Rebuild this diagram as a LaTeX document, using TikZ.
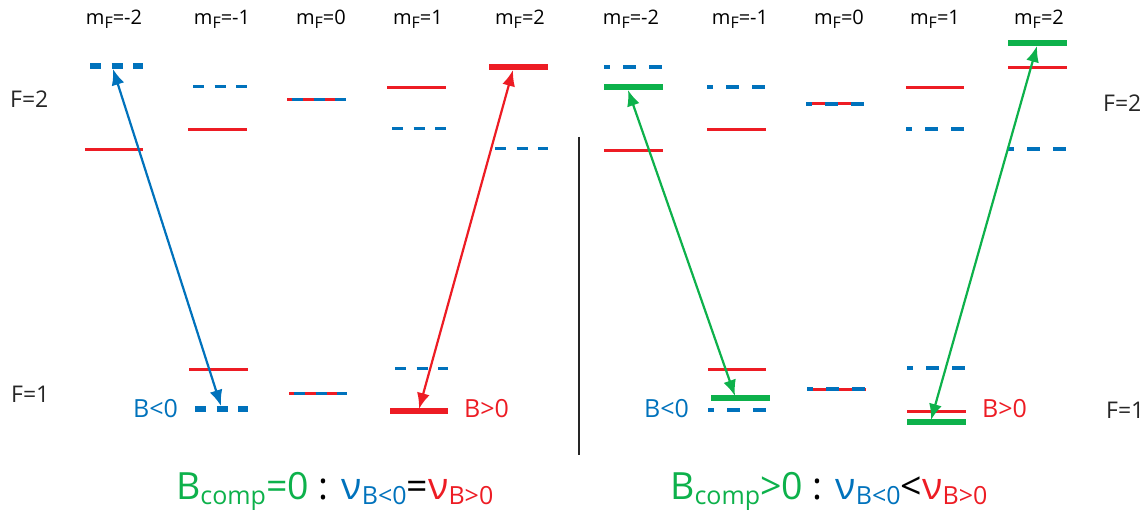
\documentclass[tikz,border=0pt]{standalone}
\usepackage{fontspec}
\setmainfont{Open Sans}
\usetikzlibrary{arrows.meta}
\definecolor{cred}{RGB}{237,28,36}
\definecolor{cblue}{RGB}{0,114,188}
\definecolor{cgreen}{RGB}{13,177,75}
\newcommand\sbs[1]{\raisebox{-5pt}{\fontsize{25}{27}\selectfont #1}}
\newcommand\mfl[1]{m\raisebox{-4pt}{\fontsize{16}{18}\selectfont F}=#1}
\newcommand\lv[4]{\draw[#1] (#2,#4) -- (#3,#4);}
\tikzset{
  redthin/.style={cred, line width=3pt},
  redthick/.style={cred, line width=5.5pt},
  greenthick/.style={cgreen, line width=5.5pt},
  blueL/.style={cblue, line width=3pt, dash pattern=on 11pt off 10.5pt},
  blueLthick/.style={cblue, line width=5.5pt, dash pattern=on 11pt off 10.5pt},
  blueR/.style={cblue, line width=4pt, dash pattern=on 13pt off 13pt, dash phase=7pt},
  mflab/.style={anchor=base, inner sep=0pt, font=\fontsize{20}{24}\selectfont},
  flab/.style={anchor=base west, inner sep=0pt, font=\fontsize{23}{27}\selectfont, text=black!85},
  blab/.style={anchor=base west, inner sep=0pt, font=\fontsize{25}{29}\selectfont},
  formula/.style={anchor=base west, inner sep=0pt, font=\fontsize{37.5}{42}\selectfont},
  arr/.style={line width=2.2pt, {Latex[length=16pt,width=13pt]}-{Latex[length=16pt,width=13pt]}},
}
\begin{document}
\begin{tikzpicture}[x=1pt,y=-1pt]
\useasboundingbox (0,0) rectangle (1146,513);

% m_F labels
\foreach \cx/\v [count=\i] in {114/-2,222/-1,321/0,418/1,520/2}{
  \node[mflab] (mfl\i) at (\cx,25) {\mfl{\v}};
}
\foreach \cx/\v [count=\i] in {631/-2,740/-1,839/0,935/1,1039/2}{
  \node[mflab] (mfr\i) at (\cx,25) {\mfl{\v}};
}

% F labels
\node[flab] (f2l) at (10,108) {F=2};
\node[flab] (f1l) at (11,402) {F=1};
\node[flab] (f2r) at (1103,112) {F=2};
\node[flab] (f1r) at (1106,418) {F=1};

% B labels
\node[blab, text=cblue] (bnl) at (133,417) {B<0};
\node[blab, text=cred]  (bpl) at (464,417) {B>0};
\node[blab, text=cblue] (bnr) at (644,417) {B<0};
\node[blab, text=cred]  (bpr) at (982,417) {B>0};

% ---------- left panel levels ----------
\lv{blueLthick}{90}{143}{66}
\lv{redthin}{85}{143}{150}
\lv{blueL}{193}{247}{87}
\lv{redthin}{188}{247}{130}
\lv{redthin}{189}{248}{369}
\lv{blueLthick}{195}{248}{409}
\lv{redthin}{287}{346}{100}
\lv{blueL}{292}{346}{100}
\lv{redthin}{289}{347}{393}
\lv{blueL}{294}{347}{393}
\lv{redthin}{387}{446}{88}
\lv{blueL}{392}{446}{129}
\lv{blueL}{395}{448}{368}
\lv{redthick}{390}{448}{411}
\lv{redthick}{489}{548}{67}
\lv{blueL}{495}{548}{149}

% ---------- right panel levels ----------
\lv{blueR}{604}{663}{67}
\lv{greenthick}{604}{663}{87}
\lv{redthin}{604}{663}{151}
\lv{blueR}{707}{766}{87}
\lv{redthin}{707}{766}{130}
\lv{redthin}{708}{766}{369}
\lv{greenthick}{711}{770}{398}
\lv{blueR}{708}{766}{410}
\lv{redthin}{806}{864}{104}
\lv{blueR}{806}{864}{104}
\lv{redthin}{807}{866}{389}
\lv{blueR}{807}{866}{389}
\lv{redthin}{906}{964}{88}
\lv{blueR}{906}{964}{129}
\lv{blueR}{907}{966}{368}
\lv{redthin}{907}{966}{411}
\lv{greenthick}{907}{966}{422}
\lv{greenthick}{1008}{1067}{43}
\lv{redthin}{1008}{1067}{68}
\lv{blueR}{1008}{1067}{149}

% separator
\coordinate (sepT) at (579,137);
\coordinate (sepB) at (579,455);
\draw[line width=2pt, black!85] (sepT) -- (sepB);

% arrows
\coordinate (bT) at (113,69);
\coordinate (bB) at (221,406);
\coordinate (rT) at (513,70);
\coordinate (rB) at (419,409);
\coordinate (g1T) at (628,90);
\coordinate (g1B) at (735,396);
\coordinate (g2T) at (1037,46);
\coordinate (g2B) at (931,420);
\draw[arr, cblue] (bT) -- (bB);
\draw[arr, cred] (rT) -- (rB);
\draw[arr, cgreen] (g1T) -- (g1B);
\draw[arr, cgreen] (g2T) -- (g2B);

% formulas
\node[formula] (fl) at (176,499) {\textcolor{cgreen}{B\sbs{comp}=0} : \textcolor{cblue}{ν\sbs{B<0}}=\textcolor{cred}{ν\sbs{B>0}}};
\node[formula] (fr) at (670,499) {\textcolor{cgreen}{B\sbs{comp}>0} : \textcolor{cblue}{ν\sbs{B<0}}<\textcolor{cred}{ν\sbs{B>0}}};
\end{tikzpicture}
\end{document}
